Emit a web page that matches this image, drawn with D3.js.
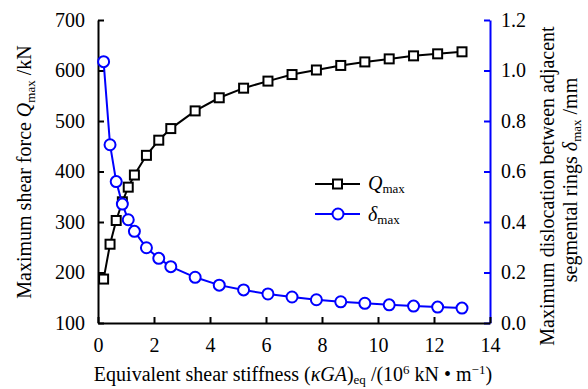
<!DOCTYPE html>
<html>
<head>
<meta charset="utf-8">
<script src="https://cdn.jsdelivr.net/npm/d3@7"></script>
<style>
body { margin: 0; background: #fff; }
svg, svg text { font-family: "Liberation Serif", "Times New Roman", serif; }
</style>
</head>
<body>
<div id="chart"></div>
<script>

// stiffness values (10^6 kN/m)
var stiffness = [0.2, 0.43, 0.65, 0.87, 1.08, 1.3, 1.73, 2.17, 2.6, 3.47, 4.33, 5.2,
    6.07, 6.93, 7.8, 8.67, 9.53, 10.4, 11.27, 12.13, 13.0];
// max shear force (kN)
var qmax = [187, 256, 303, 340, 369, 393, 432, 462, 485, 520, 546, 565,
    579, 592, 601, 610, 617, 623, 629, 633, 637];
// max dislocation (mm)
var dmax = [1.035, 0.706, 0.56, 0.471, 0.409, 0.363, 0.298, 0.256, 0.223, 0.181, 0.150, 0.131,
    0.115, 0.103, 0.092, 0.084, 0.078, 0.072, 0.067, 0.063, 0.059];

var xTicks = [0, 2, 4, 6, 8, 10, 12, 14];
var qTicks = [100, 200, 300, 400, 500, 600, 700];
var dTicks = [0, 0.2, 0.4, 0.6, 0.8, 1.0, 1.2];

var margin = {top: 20, right: 98, bottom: 66, left: 98},
    width = 588 - margin.left - margin.right,
    height = 389 - margin.top - margin.bottom;

var svg = d3.select("#chart").append("svg")
    .attr("width", 588)
    .attr("height", 389);
var g = svg.append("g")
    .attr("transform", "translate(" + margin.left + "," + margin.top + ")");

var x = d3.scaleLinear().domain([0, 14]).range([0, width]);
var yq = d3.scaleLinear().domain([100, 700]).range([height, 0]);
var yd = d3.scaleLinear().domain([0, 1.2]).range([height, 0]);

// axes, ticks pointing inward
var xAxis = g.append("g")
    .attr("transform", "translate(0," + height + ")")
    .call(d3.axisBottom(x).tickValues(xTicks).tickSizeInner(-6).tickSizeOuter(0).tickPadding(12));
var lAxis = g.append("g")
    .call(d3.axisLeft(yq).tickValues(qTicks).tickSizeInner(-6).tickSizeOuter(0).tickPadding(13));
var rAxis = g.append("g")
    .attr("transform", "translate(" + width + ",0)")
    .call(d3.axisRight(yd).tickValues(dTicks).tickFormat(d3.format(".1f"))
        .tickSizeInner(-6).tickSizeOuter(0).tickPadding(11));

[xAxis, lAxis, rAxis].forEach(function(a) {
    a.attr("font-family", "Liberation Serif").attr("font-size", 20);
    a.selectAll(".tick text").attr("fill", "#000");
});
[xAxis, lAxis].forEach(function(a) {
    a.select(".domain").attr("stroke", "#000").attr("stroke-width", 2);
    a.selectAll(".tick line").attr("stroke", "#000").attr("stroke-width", 2);
});
rAxis.select(".domain").attr("stroke", "#0000ff").attr("stroke-width", 2);
rAxis.selectAll(".tick line").attr("stroke", "#0000ff").attr("stroke-width", 2);
xAxis.selectAll(".tick text").attr("dy", "0.85em");
// keep the black bottom line above the blue axis end
xAxis.raise();

var qData = stiffness.map(function(s, i) { return {x: s, y: qmax[i]}; });
var dData = stiffness.map(function(s, i) { return {x: s, y: dmax[i]}; });

var qLine = d3.line().x(function(d) { return x(d.x); }).y(function(d) { return yq(d.y); });
var dLine = d3.line().x(function(d) { return x(d.x); }).y(function(d) { return yd(d.y); });

g.append("path").datum(qData)
    .attr("d", qLine).attr("fill", "none").attr("stroke", "#000").attr("stroke-width", 2);
g.selectAll(".sq").data(qData).enter().append("rect")
    .attr("class", "sq")
    .attr("x", function(d) { return x(d.x) - 4.5; })
    .attr("y", function(d) { return yq(d.y) - 4.5; })
    .attr("width", 9).attr("height", 9)
    .attr("fill", "#fff").attr("stroke", "#000").attr("stroke-width", 2);

g.append("path").datum(dData)
    .attr("d", dLine).attr("fill", "none").attr("stroke", "#0000ff").attr("stroke-width", 2);
g.selectAll(".ci").data(dData).enter().append("circle")
    .attr("class", "ci")
    .attr("cx", function(d) { return x(d.x); })
    .attr("cy", function(d) { return yd(d.y); })
    .attr("r", 5.5)
    .attr("fill", "#fff").attr("stroke", "#0000ff").attr("stroke-width", 2);

// legend
var leg = svg.append("g");
leg.append("line").attr("x1", 315).attr("x2", 360).attr("y1", 184).attr("y2", 184)
    .attr("stroke", "#000").attr("stroke-width", 2);
leg.append("rect").attr("x", 333).attr("y", 179.5).attr("width", 9).attr("height", 9)
    .attr("fill", "#fff").attr("stroke", "#000").attr("stroke-width", 2);
leg.append("line").attr("x1", 315).attr("x2", 360).attr("y1", 214).attr("y2", 214)
    .attr("stroke", "#0000ff").attr("stroke-width", 2);
leg.append("circle").attr("cx", 338).attr("cy", 214).attr("r", 5.5)
    .attr("fill", "#fff").attr("stroke", "#0000ff").attr("stroke-width", 2);

var t1 = leg.append("text").attr("x", 368).attr("y", 190).attr("font-size", 20);
t1.append("tspan").attr("font-style", "italic").text("Q");
t1.append("tspan").attr("font-size", 13).attr("dy", 3).text("max");
var t2 = leg.append("text").attr("x", 368).attr("y", 221).attr("font-size", 20);
t2.append("tspan").attr("font-style", "italic").text("δ");
t2.append("tspan").attr("font-size", 13).attr("dy", 3).text("max");

// x label
var xl = svg.append("text").attr("x", 293).attr("y", 381).attr("text-anchor", "middle")
    .attr("font-size", 20);
xl.append("tspan").text("Equivalent shear stiffness (");
xl.append("tspan").attr("font-style", "italic").text("κGA");
xl.append("tspan").text(")");
xl.append("tspan").attr("font-size", 13).attr("dy", 3).text("eq");
xl.append("tspan").attr("dy", -3).text(" /(10");
xl.append("tspan").attr("font-size", 13).attr("dy", -7).text("6");
xl.append("tspan").attr("dy", 7).text(" kN • m");
xl.append("tspan").attr("font-size", 13).attr("dy", -7).text("−1");
xl.append("tspan").attr("dy", 7).text(")");

// left label
var yl = svg.append("text").attr("transform", "translate(31,172) rotate(-90)")
    .attr("text-anchor", "middle").attr("font-size", 20);
yl.append("tspan").text("Maximum shear force ");
yl.append("tspan").attr("font-style", "italic").text("Q");
yl.append("tspan").attr("font-size", 13).attr("dy", 4).text("max");
yl.append("tspan").attr("dy", -4).text(" /kN");

// right label, two lines
svg.append("text").attr("transform", "translate(554,186) rotate(-90)")
    .attr("text-anchor", "middle").attr("font-size", 20)
    .text("Maximum dislocation between adjacent");
var r2 = svg.append("text").attr("transform", "translate(577,180) rotate(-90)")
    .attr("text-anchor", "middle").attr("font-size", 20);
r2.append("tspan").text("segmental rings ");
r2.append("tspan").attr("font-style", "italic").text("δ");
r2.append("tspan").attr("font-size", 13).attr("dy", 4).text("max");
r2.append("tspan").attr("dy", -4).text(" /mm");

</script>
</body>
</html>
